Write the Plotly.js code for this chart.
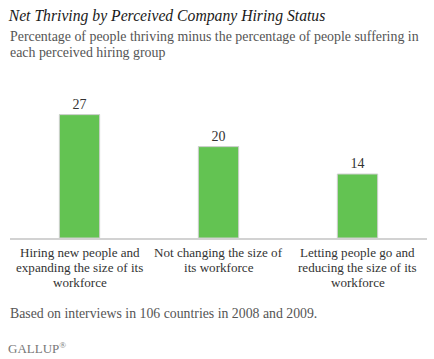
<!DOCTYPE html>
<html>
<head>
<meta charset="utf-8">
<script src="https://cdn.plot.ly/plotly-3.0.1.min.js"></script>
<style>html,body{margin:0;padding:0;background:#fff;}#chart{width:434px;height:359px;}</style>
</head>
<body>
<div id="chart"></div>
<script>
const categories = [
  "Hiring new people and<br>expanding the size of its<br>workforce",
  "Not changing the size of<br>its workforce",
  "Letting people go and<br>reducing the size of its<br>workforce"
];
const netThriving = [27, 20, 14];
const valueLabels = ["27", "20", "14"];
const subtitleLines = [
  "Percentage of people thriving minus the percentage of people suffering in",
  "each perceived hiring group"
];

const FONT = "Liberation Serif, Georgia, serif";
const H = 359, TOP = 100, BOTTOM = 238, PH = BOTTOM - TOP;
const py = p => (BOTTOM - p) / PH;

const trace = {
  type: "bar",
  x: categories,
  y: netThriving,
  text: valueLabels,
  textposition: "outside",
  cliponaxis: false,
  textfont: {family: FONT, size: 14, color: "#333"},
  marker: {color: "#63C352", line: {color: "#cfcfcf", width: 1}},
  width: 0.29,
  hoverinfo: "none"
};

const annotations = [];
subtitleLines.forEach((t, j) => annotations.push({
  text: t, xref: "paper", yref: "paper", x: 0, y: py(37 + 15 * j),
  xanchor: "left", yanchor: "middle", xshift: -2, showarrow: false,
  font: {family: FONT, size: 13.9, color: "#555"}
}));
categories.forEach(c => {
  c.split("<br>").forEach((t, j) => annotations.push({
    text: t, xref: "x", yref: "paper", x: c, y: py(252 + 15 * j),
    xanchor: "center", yanchor: "middle", showarrow: false,
    font: {family: FONT, size: 13.1, color: "#333"}
  }));
});
annotations.push({
  text: "Based on interviews in 106 countries in 2008 and 2009.",
  xref: "paper", yref: "paper", x: 0, y: py(313), xanchor: "left", yanchor: "middle",
  xshift: -2, showarrow: false,
  font: {family: FONT, size: 13.8, color: "#555"}
});
annotations.push({
  text: "GALLUP<sup>&#174;</sup>",
  xref: "paper", yref: "paper", x: 0, y: py(348), xanchor: "left", yanchor: "middle",
  xshift: -4, showarrow: false,
  font: {family: FONT, size: 13, color: "#777"}
});

const layout = {
  width: 434, height: 359,
  margin: {l: 10, r: 7, t: TOP, b: H - BOTTOM, pad: 0},
  paper_bgcolor: "#fff", plot_bgcolor: "#fff",
  showlegend: false,
  font: {family: FONT, color: "#333"},
  title: {
    text: "<i>Net Thriving by Perceived Company Hiring Status</i>",
    font: {family: FONT, size: 15.7, color: "#1a1a1a"},
    xref: "container", yref: "container",
    x: 0.02, xanchor: "left", y: 1 - 16/359, yanchor: "middle"
  },
  xaxis: {
    type: "category",
    showline: true, linecolor: "#d2d2d2", linewidth: 2,
    ticks: "", showticklabels: false, showgrid: false, zeroline: false,
    fixedrange: true
  },
  yaxis: {
    range: [0, 30.2],
    visible: false, showgrid: false, zeroline: false, fixedrange: true
  },
  annotations: annotations
};

Plotly.newPlot("chart", [trace], layout, {displayModeBar: false, staticPlot: true});
</script>
</body>
</html>
